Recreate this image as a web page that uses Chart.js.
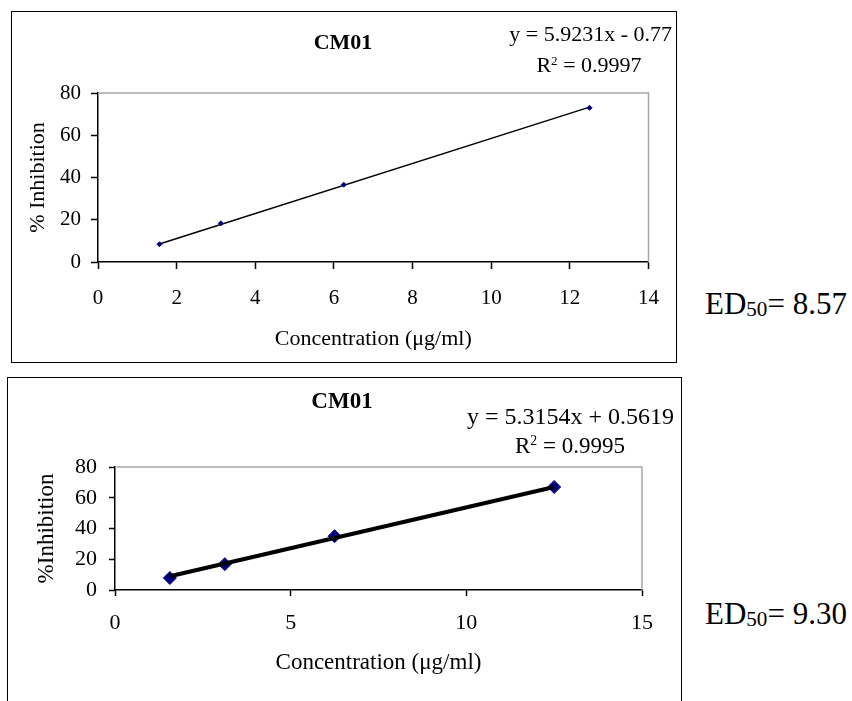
<!DOCTYPE html>
<html>
<head>
<meta charset="utf-8">
<script src="https://cdn.jsdelivr.net/npm/chart.js@4.4.1/dist/chart.umd.min.js"></script>
<style>
  html, body { margin:0; padding:0; background:#fff; }
  body { width:852px; height:701px; overflow:hidden; position:relative; font-family:"Liberation Serif","Times New Roman",serif; color:#000; }
  .box { position:absolute; border:1px solid #000; box-sizing:border-box; background:#fff; }
  canvas { position:absolute; }
  .t { position:absolute; white-space:nowrap; line-height:1; }
  .c { transform:translate(-50%,-50%); }
  .r { transform:translateY(-50%); }
  sup { font-size:0.6em; vertical-align:0.55em; line-height:0; }
  sub { font-size:0.68em; vertical-align:-0.12em; line-height:0; }
</style>
</head>
<body>
<div class="box" style="left:11px;top:11px;width:666px;height:352px;"></div>
<canvas id="c1" width="664" height="350" style="left:12px;top:12px;width:664px;height:350px;"></canvas>
<div class="t c" style="left:343px;top:42px;font-size:22px;font-weight:bold;">CM01</div>
<div class="t r" style="right:180px;top:34px;font-size:22px;">y = 5.9231x - 0.77</div>
<div class="t c" style="left:589px;top:65px;font-size:22px;">R<sup>2</sup> = 0.9997</div>

<div class="box" style="left:7px;top:377px;width:675px;height:360px;"></div>
<canvas id="c2" width="673" height="323" style="left:8px;top:378px;width:673px;height:323px;"></canvas>
<div class="t c" style="left:342px;top:400px;font-size:23px;font-weight:bold;">CM01</div>
<div class="t r" style="right:178px;top:416px;font-size:24px;">y = 5.3154x + 0.5619</div>
<div class="t c" style="left:570px;top:445px;font-size:23px;">R<sup>2</sup> = 0.9995</div>

<div class="t r" style="left:705px;top:303px;font-size:31px;">ED<sub>50</sub>= 8.57</div>
<div class="t r" style="left:705px;top:613px;font-size:31px;">ED<sub>50</sub>= 9.30</div>

<script>
// ---- data ----
const concentration = [1.5625, 3.125, 6.25, 12.5];
const inhibitionTop = [8.4, 18.3, 36.6, 73.0];
const trendTopX = [1.5625, 12.5];
const trendTopY = [8.5, 73.3];
const inhibitionBottom = [7.8, 16.8, 35.0, 67.0];
const trendBottomX = [1.5625, 12.5];
const trendBottomY = [8.9, 67.0];
const xTitle = 'Concentration (μg/ml)';
const yTitleTop = '% Inhibition';
const yTitleBottom = '%Inhibition';

const FONT = 'Liberation Serif';

const frame = {
  id: 'frame',
  afterDatasetsDraw(chart) {
    const a = chart.chartArea, ctx = chart.ctx;
    ctx.save();
    ctx.strokeStyle = '#a6a6a6';
    ctx.lineWidth = 1.5;
    ctx.beginPath();
    ctx.moveTo(a.left, a.top);
    ctx.lineTo(a.right, a.top);
    ctx.lineTo(a.right, a.bottom);
    ctx.stroke();
    ctx.restore();
  }
};

function pts(xs, ys) { return xs.map((x, i) => ({x: x, y: ys[i]})); }

function makeChart(id, cfg) {
  return new Chart(document.getElementById(id), {
    type: 'scatter',
    data: {
      datasets: [
        { data: pts(cfg.tx, cfg.ty), showLine: true, borderColor: '#000', borderWidth: cfg.lineWidth,
          pointRadius: 0, fill: false, order: cfg.lineOrder },
        { data: pts(concentration, cfg.y), pointStyle: 'rectRot', pointRadius: cfg.pointRadius,
          backgroundColor: '#000080', borderColor: '#000080', borderWidth: 1, order: 1 - cfg.lineOrder }
      ]
    },
    options: {
      animation: false, responsive: false,
      plugins: { legend: { display: false }, tooltip: { enabled: false } },
      layout: { padding: cfg.padding },
      scales: {
        x: {
          type: 'linear', min: 0, max: cfg.xMax,
          ticks: { stepSize: cfg.xStep, color: '#000', font: { family: FONT, size: cfg.tickSize }, padding: cfg.xTickPad, maxRotation: 0 },
          grid: { drawOnChartArea: false, drawTicks: true, tickLength: cfg.tickLen, tickColor: '#000', tickWidth: 1.5 },
          border: { color: '#000', width: 1.5 },
          title: { display: true, text: xTitle, color: '#000', font: { family: FONT, size: cfg.titleSize }, padding: { top: 0, bottom: cfg.xTitlePad } },
          afterFit(s) { s.height = cfg.xAxisH; }
        },
        y: {
          type: 'linear', min: 0, max: 80,
          ticks: { stepSize: 20, color: '#000', font: { family: FONT, size: cfg.tickSize }, padding: cfg.yTickPad },
          grid: { drawOnChartArea: false, drawTicks: true, tickLength: cfg.tickLen, tickColor: '#000', tickWidth: 1.5 },
          border: { color: '#000', width: 1.5 },
          title: { display: true, text: cfg.yTitle, color: '#000', font: { family: FONT, size: cfg.titleSize }, padding: { top: cfg.yTitlePad, bottom: 0 } },
          afterFit(s) { s.width = cfg.yAxisW; }
        }
      }
    },
    plugins: [frame]
  });
}

makeChart('c1', {
  y: inhibitionTop, tx: trendTopX, ty: trendTopY,
  lineWidth: 1.5, pointRadius: 2.5, lineOrder: 1,
  padding: { left: 0, right: 21, top: 81, bottom: 0 },
  xMax: 14, xStep: 2, tickSize: 21, titleSize: 22, tickLen: 7,
  xTickPad: 17, yTickPad: 10, xTitlePad: 10, yTitlePad: 13,
  xAxisH: 100, yAxisW: 86, yTitle: yTitleTop
});

makeChart('c2', {
  y: inhibitionBottom, tx: trendBottomX, ty: trendBottomY,
  lineWidth: 4, pointRadius: 6.5, lineOrder: 0,
  padding: { left: 0, right: 39, top: 89, bottom: 0 },
  xMax: 15, xStep: 5, tickSize: 22, titleSize: 23, tickLen: 6,
  xTickPad: 14, yTickPad: 12, xTitlePad: 24, yTitlePad: 25,
  xAxisH: 111, yAxisW: 107, yTitle: yTitleBottom
});
</script>
</body>
</html>
